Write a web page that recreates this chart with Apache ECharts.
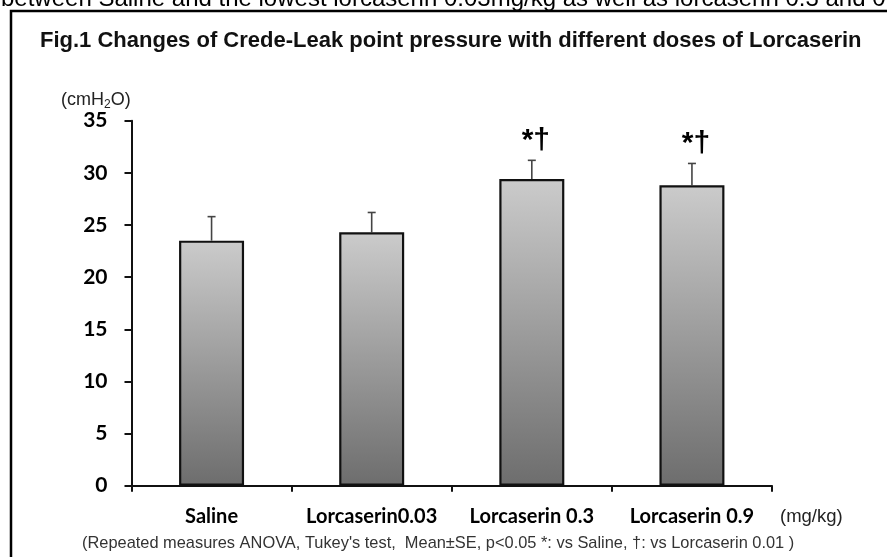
<!DOCTYPE html>
<html><head><meta charset="utf-8">
<script src="https://cdn.jsdelivr.net/npm/echarts@6/dist/echarts.min.js"></script>
<style>html,body{margin:0;padding:0;background:#fff}#c{width:887px;height:557px}</style>
</head><body><div id="c"></div>
<script>
var categories = ['Saline', 'Lorcaserin0.03', 'Lorcaserin 0.3', 'Lorcaserin 0.9'];
var means = [23.5, 24.3, 29.4, 28.8];
var errors = [2.3, 1.9, 1.8, 2.1];
var sigMarks = ['', '', '*\u2020', '*\u2020'];
var yMin = 0, yMax = 35, yStep = 5;

var chart = echarts.init(document.getElementById('c'), null, {renderer: 'canvas'});
var labelFont = 'Lato, "Open Sans", sans-serif';
var option = {
  animation: false,
  backgroundColor: '#fff',
  grid: {left: 131.5, right: 115, top: 120.7, bottom: 71.3, containLabel: false},
  xAxis: {
    type: 'category', data: categories,
    axisLine: {lineStyle: {color: '#111', width: 2}},
    axisTick: {show: true, interval: 0, alignWithLabel: false, length: 6, lineStyle: {color: '#111', width: 2}},
    axisLabel: {interval: 0, hideOverlap: false, color: '#000', fontFamily: labelFont, fontWeight: 'bold', fontSize: 20, margin: 21}
  },
  yAxis: {
    type: 'value', min: yMin, max: yMax, interval: yStep,
    axisLine: {show: true, lineStyle: {color: '#111', width: 2}},
    axisTick: {show: true, length: 7, lineStyle: {color: '#111', width: 2}},
    splitLine: {show: false},
    axisLabel: {color: '#000', fontFamily: labelFont, fontWeight: 'bold', fontSize: 21, margin: 24}
  },
  series: [
    {
      type: 'custom', z: 1,
      data: means.map(function (m, i) { return [i, m, m + errors[i]]; }),
      renderItem: function (params, api) {
        var p0 = api.coord([api.value(0), api.value(1)]);
        var p1 = api.coord([api.value(0), api.value(2)]);
        var st = {stroke: '#444', lineWidth: 1.6};
        return {type: 'group', children: [
          {type: 'line', shape: {x1: p0[0], y1: p0[1], x2: p1[0], y2: p1[1]}, style: st},
          {type: 'line', shape: {x1: p1[0] - 4, y1: p1[1], x2: p1[0] + 4, y2: p1[1]}, style: st}
        ]};
      }
    },
    {
      type: 'bar', z: 2, data: means, barWidth: 65,
      itemStyle: {
        color: new echarts.graphic.LinearGradient(0, 0, 0, 1, [
          {offset: 0, color: '#cbcbcb'}, {offset: 1, color: '#6d6d6d'}
        ]),
        borderColor: '#111', borderWidth: 2.2
      }
    },
    {
      type: 'custom', z: 3,
      data: means.map(function (m, i) { return [i, m + errors[i], sigMarks[i]]; }),
      renderItem: function (params, api) {
        var i = params.dataIndex;
        if (!sigMarks[i]) return null;
        var p = api.coord([api.value(0), api.value(1)]);
        return {type: 'text', x: p[0] + 4, y: p[1] - 20,
          style: {text: sigMarks[i], font: 'bold 30px "Liberation Sans", Arial, sans-serif', fill: '#000', align: 'center', verticalAlign: 'middle'}};
      }
    }
  ],
  graphic: [
    {type: 'rect', shape: {x: 11, y: 11, width: 1000, height: 1000}, style: {fill: 'none', stroke: '#000', lineWidth: 2.5}, silent: true},
    {type: 'text', x: 1, y: 11, style: {text: 'between Saline and the lowest lorcaserin 0.03mg/kg as well as lorcaserin 0.3 and 0.9 mg/kg', font: '24px "Liberation Sans", Arial, sans-serif', fill: '#000', verticalAlign: 'bottom'}},
    {type: 'text', x: 40, y: 41, style: {text: 'Fig.1 Changes of Crede-Leak point pressure with different doses of Lorcaserin', font: 'bold 22px "Liberation Sans", Arial, sans-serif', fill: '#111', verticalAlign: 'middle'}},
    {type: 'text', x: 61, y: 100, style: {
      text: '{a|(cmH}{s|2}{a|O)}', verticalAlign: 'middle',
      rich: {a: {font: '18px "Liberation Sans", Arial, sans-serif', fill: '#222'}, s: {font: '12px "Liberation Sans", Arial, sans-serif', fill: '#222', padding: [9, 0, 0, 0]}}
    }},
    {type: 'text', x: 780, y: 517, style: {text: '(mg/kg)', font: '18.5px "Liberation Sans", Arial, sans-serif', fill: '#222', verticalAlign: 'middle'}},
    {type: 'text', x: 82, y: 543, style: {text: "(Repeated measures ANOVA, Tukey's test,  Mean\u00b1SE, p<0.05 *: vs Saline, \u2020: vs Lorcaserin 0.01 )", font: '16.4px "Liberation Sans", Arial, sans-serif', fill: '#333', verticalAlign: 'middle'}}
  ]
};
chart.setOption(option);
</script></body></html>
